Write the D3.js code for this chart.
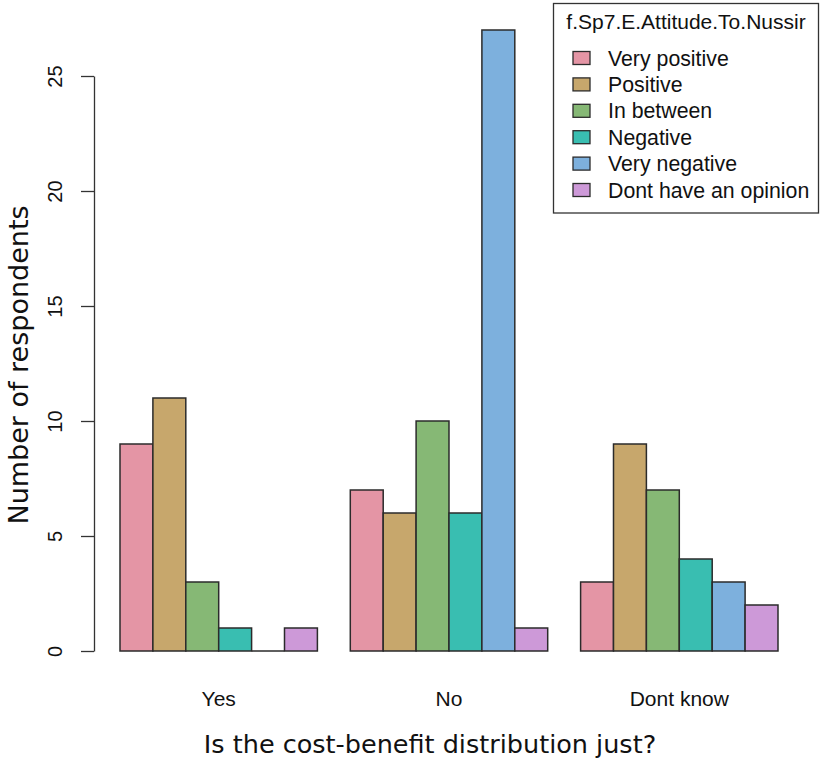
<!DOCTYPE html>
<html>
<head>
<meta charset="utf-8">
<script src="https://cdn.jsdelivr.net/npm/d3@7"></script>
<style>
  html, body { margin: 0; padding: 0; background: #fff; }
  svg { display: block; }
</style>
</head>
<body>
<svg id="chart" width="820" height="760"></svg>
<script>
// ---- data ----
const categories = ["Yes", "No", "Dont know"];
const seriesNames = ["Very positive", "Positive", "In between", "Negative", "Very negative", "Dont have an opinion"];
const valuesYes = [9, 11, 3, 1, 0, 1];
const valuesNo = [7, 6, 10, 6, 27, 1];
const valuesDontKnow = [3, 9, 7, 4, 3, 2];
const seriesColors = ["#E495A5", "#C7A76C", "#86B875", "#39BEB1", "#7DB0DD", "#CD99D8"];
const yTicks = [0, 5, 10, 15, 20, 25];
const legendTitle = "f.Sp7.E.Attitude.To.Nussir";
const xTitle = "Is the cost-benefit distribution just?";
const yTitle = "Number of respondents";

const groupValues = [valuesYes, valuesNo, valuesDontKnow];

const svg = d3.select("#chart");
const labelFont = "'Liberation Sans', Arial, sans-serif";
const titleFont = "'DejaVu Sans', Verdana, sans-serif";

// ---- scales ----
const x0 = d3.scaleBand().domain(categories).range([120, 778]).paddingInner(1 / 7).paddingOuter(0);
const x1 = d3.scaleBand().domain(seriesNames).range([0, x0.bandwidth()]).padding(0);
const y = d3.scaleLinear().domain([0, 25]).range([651, 76]);
const color = d3.scaleOrdinal().domain(seriesNames).range(seriesColors);

// ---- bars ----
const groups = svg.append("g").selectAll("g")
  .data(categories.map((c, i) => ({ cat: c, vals: groupValues[i] })))
  .join("g")
  .attr("transform", d => `translate(${x0(d.cat)},0)`);

groups.selectAll("path")
  .data(d => d.vals.map((v, j) => ({ name: seriesNames[j], v })))
  .join("path")
  .attr("d", d => {
    const xa = x1(d.name), xb = xa + x1.bandwidth();
    return `M${xa},${y(0)}H${xb}V${y(d.v)}H${xa}Z`;
  })
  .attr("fill", d => color(d.name))
  .attr("stroke", "#2b2b2b")
  .attr("stroke-width", 1.5)
  .attr("stroke-linejoin", "miter");

// ---- y axis ----
const axisX = 94;
const yAxis = svg.append("g")
  .attr("transform", `translate(${axisX},0)`)
  .call(d3.axisLeft(y).tickValues(yTicks).tickSize(13).tickSizeOuter(0).tickFormat(d3.format("d")));
yAxis.select(".domain").attr("stroke", "#333").attr("stroke-width", 1.3);
yAxis.selectAll(".tick line").attr("stroke", "#333").attr("stroke-width", 1.3);
yAxis.selectAll(".tick text")
  .attr("transform", "rotate(-90)")
  .attr("x", 0)
  .attr("y", -32)
  .attr("dy", 0)
  .attr("text-anchor", "middle")
  .attr("fill", "#111")
  .style("font-family", labelFont)
  .style("font-size", "20px");

// ---- group labels ----
svg.append("g").selectAll("text")
  .data(categories)
  .join("text")
  .attr("x", d => x0(d) + x0.bandwidth() / 2)
  .attr("y", 706)
  .attr("text-anchor", "middle")
  .attr("fill", "#111")
  .style("font-family", labelFont)
  .style("font-size", "21px")
  .text(d => d);

// ---- axis titles ----
svg.append("text")
  .attr("x", 430)
  .attr("y", 753)
  .attr("text-anchor", "middle")
  .attr("fill", "#111")
  .style("font-family", titleFont)
  .style("font-size", "25.5px")
  .text(xTitle);

svg.append("text")
  .attr("transform", "translate(28,365) rotate(-90)")
  .attr("text-anchor", "middle")
  .attr("fill", "#111")
  .style("font-family", titleFont)
  .style("font-size", "27px")
  .text(yTitle);

// ---- legend ----
const legend = svg.append("g");
legend.append("rect")
  .attr("x", 553.5).attr("y", 3.5)
  .attr("width", 265).attr("height", 209.5)
  .attr("fill", "#fff")
  .attr("stroke", "#333")
  .attr("stroke-width", 1.3);
legend.append("text")
  .attr("x", 686)
  .attr("y", 29)
  .attr("text-anchor", "middle")
  .attr("fill", "#111")
  .style("font-family", labelFont)
  .style("font-size", "21px")
  .text(legendTitle);

const ly = d3.scalePoint().domain(seriesNames).range([58, 190]);
const items = legend.selectAll("g.item")
  .data(seriesNames)
  .join("g")
  .attr("class", "item")
  .attr("transform", d => `translate(0,${ly(d)})`);
items.append("rect")
  .attr("x", 573).attr("y", -6.5)
  .attr("width", 17).attr("height", 13)
  .attr("fill", d => color(d))
  .attr("stroke", "#2b2b2b")
  .attr("stroke-width", 1.3);
items.append("text")
  .attr("x", 608)
  .attr("y", 7.5)
  .attr("fill", "#111")
  .style("font-family", labelFont)
  .style("font-size", "21.3px")
  .text(d => d);
</script>
</body>
</html>
